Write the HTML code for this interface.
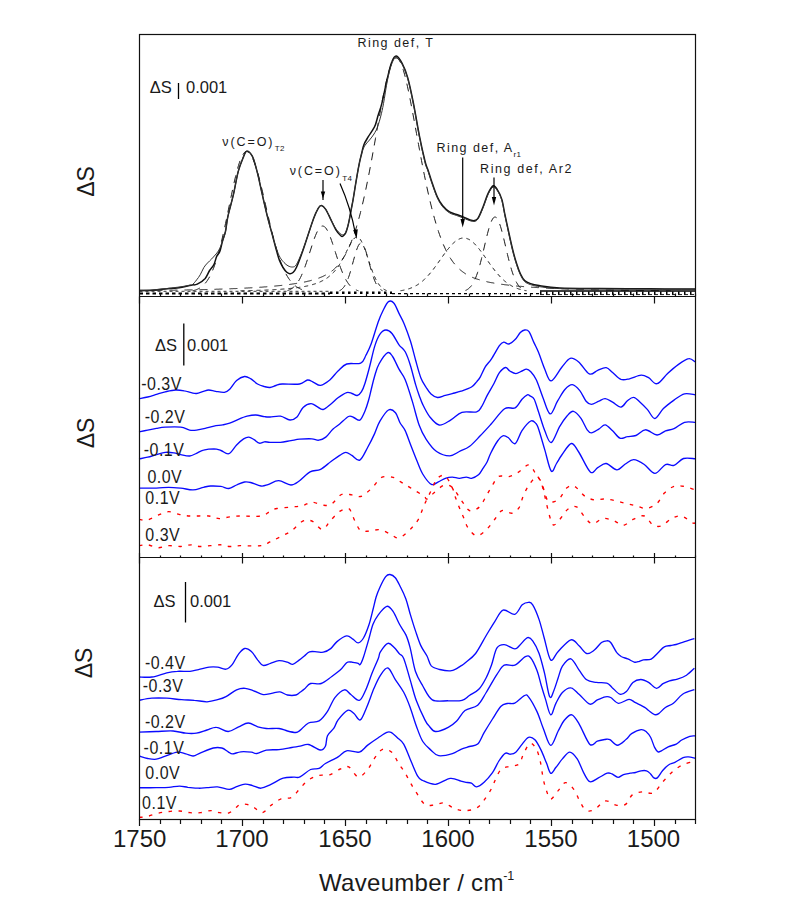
<!DOCTYPE html>
<html><head><meta charset="utf-8"><title>Spectra</title>
<style>
html,body{margin:0;padding:0;background:#fff;}
body{width:803px;height:900px;overflow:hidden;position:relative;}
svg{position:absolute;left:0;top:0;}
text{font-family:"Liberation Sans",Arial,sans-serif;}
</style></head><body>
<svg width="803" height="900" viewBox="0 0 803 900">
<rect width="803" height="900" fill="#fff"/>
<g fill="none" stroke="#1a1a1a" stroke-width="1">
<path d="M192.5 290.8 L193.5 290.6 L194.5 290.3 L195.5 290 L196.5 289.6 L197.5 289.2 L198.5 288.7 L199.5 288.2 L200.5 287.6 L201.5 286.8 L202.5 286 L203.5 285.1 L204.5 284.1 L205.5 283 L206.5 281.7 L207.5 280.3 L208.5 278.7 L209.5 277 L210.5 275.1 L211.5 273 L212.5 270.7 L213.5 268.3 L214.5 265.6 L215.5 262.7 L216.5 259.7 L217.5 256.4 L218.5 252.9 L219.5 249.3 L220.5 245.4 L221.5 241.4 L222.5 237.1 L223.5 232.8 L224.5 228.2 L225.5 223.6 L226.5 218.9 L227.5 214.1 L228.5 209.2 L229.5 204.3 L230.5 199.5 L231.5 194.7 L232.5 190 L233.5 185.4 L234.5 180.9 L235.5 176.7 L236.5 172.7 L237.5 168.9 L238.5 165.4 L239.5 162.3 L240.5 159.5 L241.5 157.1 L242.5 155.1 L243.5 153.5 L244.5 152.4 L245.5 151.7 L246.5 151.5 L247.5 151.7 L248.5 152.2 L249.5 153.2 L250.5 154.4 L251.5 156 L252.5 158 L253.5 160.3 L254.5 162.8 L255.5 165.7 L256.5 168.8 L257.5 172.2 L258.5 175.7 L259.5 179.5 L260.5 183.4 L261.5 187.5 L262.5 191.7 L263.5 195.9 L264.5 200.2 L265.5 204.6 L266.5 209 L267.5 213.3 L268.5 217.6 L269.5 221.9 L270.5 226.1 L271.5 230.2 L272.5 234.2 L273.5 238.1 L274.5 241.9 L275.5 245.5 L276.5 249 L277.5 252.3 L278.5 255.4 L279.5 258.4 L280.5 261.3 L281.5 263.9 L282.5 266.4 L283.5 268.8 L284.5 271 L285.5 273 L286.5 274.9 L287.5 276.6 L288.5 278.2 L289.5 279.6 L290.5 281 L291.5 282.2 L292.5 283.3 L293.5 284.3 L294.5 285.2 L295.5 286 L296.5 286.8 L297.5 287.4 L298.5 288 L299.5 288.5 L300.5 289 L301.5 289.4 L302.5 289.7 L303.5 290 L304.5 290.3 L305.5 290.6 L306.5 290.8" stroke-dasharray="8 7"/>
<path d="M287.5 290.6 L288.5 290.2 L289.5 289.8 L290.5 289.3 L291.5 288.7 L292.5 288 L293.5 287.2 L294.5 286.3 L295.5 285.2 L296.5 284 L297.5 282.6 L298.5 281.1 L299.5 279.4 L300.5 277.5 L301.5 275.4 L302.5 273.1 L303.5 270.7 L304.5 268.1 L305.5 265.3 L306.5 262.4 L307.5 259.4 L308.5 256.4 L309.5 253.2 L310.5 250.1 L311.5 247 L312.5 243.9 L313.5 240.9 L314.5 238.1 L315.5 235.5 L316.5 233.2 L317.5 231.1 L318.5 229.4 L319.5 227.9 L320.5 226.9 L321.5 226.2 L322.5 226 L323.5 226.2 L324.5 226.7 L325.5 227.7 L326.5 229 L327.5 230.7 L328.5 232.8 L329.5 235.1 L330.5 237.6 L331.5 240.4 L332.5 243.3 L333.5 246.3 L334.5 249.5 L335.5 252.6 L336.5 255.7 L337.5 258.8 L338.5 261.9 L339.5 264.8 L340.5 267.6 L341.5 270.2 L342.5 272.7 L343.5 275 L344.5 277.1 L345.5 279 L346.5 280.8 L347.5 282.3 L348.5 283.8 L349.5 285 L350.5 286.1 L351.5 287 L352.5 287.9 L353.5 288.6 L354.5 289.2 L355.5 289.7 L356.5 290.1 L357.5 290.5 L358.5 290.8" stroke-dasharray="8 7"/>
<path d="M339.5 290.7 L340.5 290.2 L341.5 289.5 L342.5 288.6 L343.5 287.5 L344.5 286.2 L345.5 284.5 L346.5 282.5 L347.5 280.2 L348.5 277.5 L349.5 274.6 L350.5 271.3 L351.5 267.8 L352.5 264.1 L353.5 260.4 L354.5 256.8 L355.5 253.3 L356.5 250.2 L357.5 247.5 L358.5 245.3 L359.5 243.9 L360.5 243.1 L361.5 243.1 L362.5 243.9 L363.5 245.3 L364.5 247.5 L365.5 250.2 L366.5 253.3 L367.5 256.8 L368.5 260.4 L369.5 264.1 L370.5 267.8 L371.5 271.3 L372.5 274.6 L373.5 277.5 L374.5 280.2 L375.5 282.5 L376.5 284.5 L377.5 286.2 L378.5 287.5 L379.5 288.6 L380.5 289.5 L381.5 290.2 L382.5 290.7" stroke-dasharray="8 7"/>
<path d="M240.5 290.8 L241.5 290.8 L242.5 290.7 L243.5 290.7 L244.5 290.7 L245.5 290.7 L246.5 290.7 L247.5 290.6 L248.5 290.6 L249.5 290.6 L250.5 290.6 L251.5 290.5 L252.5 290.5 L253.5 290.5 L254.5 290.4 L255.5 290.4 L256.5 290.4 L257.5 290.3 L258.5 290.3 L259.5 290.3 L260.5 290.2 L261.5 290.2 L262.5 290.2 L263.5 290.1 L264.5 290.1 L265.5 290.1 L266.5 290 L267.5 290 L268.5 289.9 L269.5 289.9 L270.5 289.8 L271.5 289.8 L272.5 289.7 L273.5 289.7 L274.5 289.6 L275.5 289.6 L276.5 289.5 L277.5 289.5 L278.5 289.4 L279.5 289.3 L280.5 289.3 L281.5 289.2 L282.5 289.1 L283.5 289 L284.5 289 L285.5 288.9 L286.5 288.8 L287.5 288.7 L288.5 288.6 L289.5 288.5 L290.5 288.4 L291.5 288.3 L292.5 288.2 L293.5 288.1 L294.5 288 L295.5 287.9 L296.5 287.8 L297.5 287.6 L298.5 287.5 L299.5 287.3 L300.5 287.2 L301.5 287 L302.5 286.9 L303.5 286.7 L304.5 286.5 L305.5 286.3 L306.5 286.1 L307.5 285.9 L308.5 285.7 L309.5 285.4 L310.5 285.2 L311.5 284.9 L312.5 284.6 L313.5 284.3 L314.5 284 L315.5 283.7 L316.5 283.3 L317.5 283 L318.5 282.6 L319.5 282.2 L320.5 281.7 L321.5 281.2 L322.5 280.7 L323.5 280.2 L324.5 279.6 L325.5 279 L326.5 278.4 L327.5 277.7 L328.5 276.9 L329.5 276.1 L330.5 275.3 L331.5 274.4 L332.5 273.4 L333.5 272.4 L334.5 271.3 L335.5 270.1 L336.5 268.8 L337.5 267.5 L338.5 266 L339.5 264.5 L340.5 262.9 L341.5 261.2 L342.5 259.4 L343.5 257.5 L344.5 255.6 L345.5 253.6 L346.5 251.6 L347.5 249.5 L348.5 247.5 L349.5 245.5 L350.5 243.7 L351.5 241.9 L352.5 240.4 L353.5 239.1 L354.5 238.1 L355.5 237.4 L356.5 237 L357.5 237.1 L358.5 237.5 L359.5 238.4 L360.5 239.7 L361.5 241.4 L362.5 243.5 L363.5 245.8 L364.5 248.4 L365.5 251.2 L366.5 254.1 L367.5 257.1 L368.5 260.2 L369.5 263.2 L370.5 266.1 L371.5 268.9 L372.5 271.6 L373.5 274.1 L374.5 276.5 L375.5 278.6 L376.5 280.6 L377.5 282.3 L378.5 283.9 L379.5 285.2 L380.5 286.4 L381.5 287.4 L382.5 288.3 L383.5 289 L384.5 289.6 L385.5 290.1 L386.5 290.5" stroke-dasharray="4 4"/>
<path d="M139.5 290.6 L140.5 290.6 L141.5 290.6 L142.5 290.6 L143.5 290.6 L144.5 290.6 L145.5 290.6 L146.5 290.5 L147.5 290.5 L148.5 290.5 L149.5 290.5 L150.5 290.5 L151.5 290.5 L152.5 290.5 L153.5 290.5 L154.5 290.5 L155.5 290.4 L156.5 290.4 L157.5 290.4 L158.5 290.4 L159.5 290.4 L160.5 290.4 L161.5 290.4 L162.5 290.3 L163.5 290.3 L164.5 290.3 L165.5 290.3 L166.5 290.3 L167.5 290.3 L168.5 290.3 L169.5 290.2 L170.5 290.2 L171.5 290.2 L172.5 290.2 L173.5 290.2 L174.5 290.2 L175.5 290.1 L176.5 290.1 L177.5 290.1 L178.5 290.1 L179.5 290.1 L180.5 290.1 L181.5 290 L182.5 290 L183.5 290 L184.5 290 L185.5 290 L186.5 290 L187.5 289.9 L188.5 289.9 L189.5 289.9 L190.5 289.9 L191.5 289.9 L192.5 289.8 L193.5 289.8 L194.5 289.8 L195.5 289.8 L196.5 289.7 L197.5 289.7 L198.5 289.7 L199.5 289.7 L200.5 289.7 L201.5 289.6 L202.5 289.6 L203.5 289.6 L204.5 289.6 L205.5 289.5 L206.5 289.5 L207.5 289.5 L208.5 289.5 L209.5 289.4 L210.5 289.4 L211.5 289.4 L212.5 289.3 L213.5 289.3 L214.5 289.3 L215.5 289.3 L216.5 289.2 L217.5 289.2 L218.5 289.2 L219.5 289.1 L220.5 289.1 L221.5 289.1 L222.5 289 L223.5 289 L224.5 289 L225.5 288.9 L226.5 288.9 L227.5 288.9 L228.5 288.8 L229.5 288.8 L230.5 288.8 L231.5 288.7 L232.5 288.7 L233.5 288.6 L234.5 288.6 L235.5 288.6 L236.5 288.5 L237.5 288.5 L238.5 288.4 L239.5 288.4 L240.5 288.3 L241.5 288.3 L242.5 288.2 L243.5 288.2 L244.5 288.1 L245.5 288.1 L246.5 288 L247.5 288 L248.5 287.9 L249.5 287.9 L250.5 287.8 L251.5 287.8 L252.5 287.7 L253.5 287.7 L254.5 287.6 L255.5 287.5 L256.5 287.5 L257.5 287.4 L258.5 287.4 L259.5 287.3 L260.5 287.2 L261.5 287.2 L262.5 287.1 L263.5 287 L264.5 286.9 L265.5 286.9 L266.5 286.8 L267.5 286.7 L268.5 286.6 L269.5 286.6 L270.5 286.5 L271.5 286.4 L272.5 286.3 L273.5 286.2 L274.5 286.1 L275.5 286 L276.5 285.9 L277.5 285.8 L278.5 285.7 L279.5 285.6 L280.5 285.5 L281.5 285.4 L282.5 285.3 L283.5 285.2 L284.5 285.1 L285.5 285 L286.5 284.8 L287.5 284.7 L288.5 284.6 L289.5 284.5 L290.5 284.3 L291.5 284.2 L292.5 284 L293.5 283.9 L294.5 283.7 L295.5 283.6 L296.5 283.4 L297.5 283.3 L298.5 283.1 L299.5 282.9 L300.5 282.8 L301.5 282.6 L302.5 282.4 L303.5 282.2 L304.5 282 L305.5 281.8 L306.5 281.6 L307.5 281.3 L308.5 281.1 L309.5 280.9 L310.5 280.6 L311.5 280.3 L312.5 280.1 L313.5 279.8 L314.5 279.5 L315.5 279.2 L316.5 278.9 L317.5 278.5 L318.5 278.2 L319.5 277.8 L320.5 277.4 L321.5 277 L322.5 276.6 L323.5 276.1 L324.5 275.6 L325.5 275.1 L326.5 274.6 L327.5 274 L328.5 273.4 L329.5 272.7 L330.5 272 L331.5 271.3 L332.5 270.5 L333.5 269.7 L334.5 268.8 L335.5 267.9 L336.5 266.9 L337.5 265.8 L338.5 264.7 L339.5 263.5 L340.5 262.2 L341.5 260.8 L342.5 259.3 L343.5 257.8 L344.5 256.1 L345.5 254.4 L346.5 252.5 L347.5 250.5 L348.5 248.4 L349.5 246.2 L350.5 243.8 L351.5 241.3 L352.5 238.7 L353.5 235.9 L354.5 233 L355.5 230 L356.5 226.8 L357.5 223.4 L358.5 219.9 L359.5 216.2 L360.5 212.4 L361.5 208.4 L362.5 204.2 L363.5 199.9 L364.5 195.5 L365.5 190.9 L366.5 186.1 L367.5 181.2 L368.5 176.2 L369.5 171.1 L370.5 165.8 L371.5 160.5 L372.5 155 L373.5 149.5 L374.5 143.9 L375.5 138.3 L376.5 132.7 L377.5 127 L378.5 121.4 L379.5 115.8 L380.5 110.3 L381.5 104.9 L382.5 99.6 L383.5 94.5 L384.5 89.6 L385.5 84.9 L386.5 80.5 L387.5 76.4 L388.5 72.6 L389.5 69.2 L390.5 66.2 L391.5 63.6 L392.5 61.5 L393.5 59.9 L394.5 58.7 L395.5 58.1 L396.5 58 L397.5 58.4 L398.5 59.3 L399.5 60.7 L400.5 62.6 L401.5 64.9 L402.5 67.6 L403.5 70.7 L404.5 74.2 L405.5 78.1 L406.5 82.2 L407.5 86.7 L408.5 91.3 L409.5 96.2 L410.5 101.2 L411.5 106.4 L412.5 111.7 L413.5 117.1 L414.5 122.5 L415.5 128 L416.5 133.5 L417.5 139 L418.5 144.4 L419.5 149.8 L420.5 155.2 L421.5 160.5 L422.5 165.7 L423.5 170.8 L424.5 175.7 L425.5 180.6 L426.5 185.4 L427.5 190 L428.5 194.5 L429.5 198.9 L430.5 203.1 L431.5 207.1 L432.5 211.1 L433.5 214.9 L434.5 218.5 L435.5 222 L436.5 225.3 L437.5 228.5 L438.5 231.6 L439.5 234.5 L440.5 237.3 L441.5 240 L442.5 242.5 L443.5 244.9 L444.5 247.1 L445.5 249.3 L446.5 251.3 L447.5 253.2 L448.5 255 L449.5 256.8 L450.5 258.4 L451.5 259.9 L452.5 261.3 L453.5 262.7 L454.5 263.9 L455.5 265.1 L456.5 266.3 L457.5 267.3 L458.5 268.3 L459.5 269.2 L460.5 270.1 L461.5 270.9 L462.5 271.7 L463.5 272.4 L464.5 273.1 L465.5 273.8 L466.5 274.4 L467.5 274.9 L468.5 275.5 L469.5 276 L470.5 276.5 L471.5 276.9 L472.5 277.4 L473.5 277.8 L474.5 278.2 L475.5 278.5 L476.5 278.9 L477.5 279.2 L478.5 279.5 L479.5 279.8 L480.5 280.1 L481.5 280.4 L482.5 280.7 L483.5 280.9 L484.5 281.2 L485.5 281.4 L486.5 281.6 L487.5 281.9 L488.5 282.1 L489.5 282.3 L490.5 282.5 L491.5 282.7 L492.5 282.8 L493.5 283 L494.5 283.2 L495.5 283.4 L496.5 283.5 L497.5 283.7 L498.5 283.8 L499.5 284 L500.5 284.1 L501.5 284.3 L502.5 284.4 L503.5 284.5 L504.5 284.7 L505.5 284.8 L506.5 284.9 L507.5 285 L508.5 285.2 L509.5 285.3 L510.5 285.4 L511.5 285.5 L512.5 285.6 L513.5 285.7 L514.5 285.8 L515.5 285.9 L516.5 286 L517.5 286.1 L518.5 286.2 L519.5 286.3 L520.5 286.3 L521.5 286.4 L522.5 286.5 L523.5 286.6 L524.5 286.7 L525.5 286.8 L526.5 286.8 L527.5 286.9 L528.5 287 L529.5 287.1 L530.5 287.1 L531.5 287.2 L532.5 287.3 L533.5 287.3 L534.5 287.4 L535.5 287.5 L536.5 287.5 L537.5 287.6 L538.5 287.6 L539.5 287.7 L540.5 287.8 L541.5 287.8 L542.5 287.9 L543.5 287.9 L544.5 288 L545.5 288 L546.5 288.1 L547.5 288.1 L548.5 288.2 L549.5 288.2 L550.5 288.3 L551.5 288.3 L552.5 288.4 L553.5 288.4 L554.5 288.5 L555.5 288.5 L556.5 288.5 L557.5 288.6 L558.5 288.6 L559.5 288.7 L560.5 288.7 L561.5 288.7 L562.5 288.8 L563.5 288.8 L564.5 288.8 L565.5 288.9 L566.5 288.9 L567.5 289 L568.5 289 L569.5 289 L570.5 289.1 L571.5 289.1 L572.5 289.1 L573.5 289.2 L574.5 289.2 L575.5 289.2 L576.5 289.2 L577.5 289.3 L578.5 289.3 L579.5 289.3 L580.5 289.4 L581.5 289.4 L582.5 289.4 L583.5 289.4 L584.5 289.5 L585.5 289.5 L586.5 289.5 L587.5 289.5 L588.5 289.6 L589.5 289.6 L590.5 289.6 L591.5 289.6 L592.5 289.7 L593.5 289.7 L594.5 289.7 L595.5 289.7 L596.5 289.8 L597.5 289.8 L598.5 289.8 L599.5 289.8 L600.5 289.8 L601.5 289.9 L602.5 289.9 L603.5 289.9 L604.5 289.9 L605.5 289.9 L606.5 290 L607.5 290 L608.5 290 L609.5 290 L610.5 290 L611.5 290.1 L612.5 290.1 L613.5 290.1 L614.5 290.1 L615.5 290.1 L616.5 290.1 L617.5 290.2 L618.5 290.2 L619.5 290.2 L620.5 290.2 L621.5 290.2 L622.5 290.2 L623.5 290.3 L624.5 290.3 L625.5 290.3 L626.5 290.3 L627.5 290.3 L628.5 290.3 L629.5 290.3 L630.5 290.4 L631.5 290.4 L632.5 290.4 L633.5 290.4 L634.5 290.4 L635.5 290.4 L636.5 290.4 L637.5 290.4 L638.5 290.5 L639.5 290.5 L640.5 290.5 L641.5 290.5 L642.5 290.5 L643.5 290.5 L644.5 290.5 L645.5 290.5 L646.5 290.6 L647.5 290.6 L648.5 290.6 L649.5 290.6 L650.5 290.6 L651.5 290.6 L652.5 290.6 L653.5 290.6 L654.5 290.6 L655.5 290.7 L656.5 290.7 L657.5 290.7 L658.5 290.7 L659.5 290.7 L660.5 290.7 L661.5 290.7 L662.5 290.7 L663.5 290.7 L664.5 290.7 L665.5 290.7 L666.5 290.8 L667.5 290.8 L668.5 290.8 L669.5 290.8 L670.5 290.8" stroke-dasharray="8 7"/>
<path d="M400.5 290.7 L401.5 290.6 L402.5 290.4 L403.5 290.2 L404.5 290 L405.5 289.8 L406.5 289.5 L407.5 289.2 L408.5 288.9 L409.5 288.6 L410.5 288.2 L411.5 287.8 L412.5 287.4 L413.5 287 L414.5 286.5 L415.5 285.9 L416.5 285.4 L417.5 284.8 L418.5 284.1 L419.5 283.4 L420.5 282.7 L421.5 281.9 L422.5 281.1 L423.5 280.2 L424.5 279.3 L425.5 278.3 L426.5 277.3 L427.5 276.2 L428.5 275.1 L429.5 274 L430.5 272.8 L431.5 271.6 L432.5 270.4 L433.5 269.1 L434.5 267.7 L435.5 266.4 L436.5 265 L437.5 263.6 L438.5 262.2 L439.5 260.8 L440.5 259.4 L441.5 258 L442.5 256.5 L443.5 255.1 L444.5 253.7 L445.5 252.4 L446.5 251 L447.5 249.7 L448.5 248.5 L449.5 247.3 L450.5 246.1 L451.5 245 L452.5 243.9 L453.5 243 L454.5 242.1 L455.5 241.2 L456.5 240.5 L457.5 239.9 L458.5 239.3 L459.5 238.9 L460.5 238.5 L461.5 238.2 L462.5 238.1 L463.5 238 L464.5 238 L465.5 238.2 L466.5 238.4 L467.5 238.8 L468.5 239.2 L469.5 239.7 L470.5 240.4 L471.5 241.1 L472.5 241.9 L473.5 242.8 L474.5 243.7 L475.5 244.8 L476.5 245.9 L477.5 247 L478.5 248.2 L479.5 249.5 L480.5 250.8 L481.5 252.1 L482.5 253.5 L483.5 254.9 L484.5 256.3 L485.5 257.7 L486.5 259.1 L487.5 260.5 L488.5 261.9 L489.5 263.4 L490.5 264.8 L491.5 266.1 L492.5 267.5 L493.5 268.8 L494.5 270.1 L495.5 271.4 L496.5 272.6 L497.5 273.8 L498.5 274.9 L499.5 276 L500.5 277.1 L501.5 278.1 L502.5 279.1 L503.5 280 L504.5 280.9 L505.5 281.7 L506.5 282.5 L507.5 283.3 L508.5 284 L509.5 284.6 L510.5 285.2 L511.5 285.8 L512.5 286.4 L513.5 286.9 L514.5 287.3 L515.5 287.8 L516.5 288.2 L517.5 288.5 L518.5 288.9 L519.5 289.2 L520.5 289.5 L521.5 289.7 L522.5 290 L523.5 290.2 L524.5 290.4 L525.5 290.6 L526.5 290.7" stroke-dasharray="4 4"/>
<path d="M465.5 290.4 L466.5 290 L467.5 289.4 L468.5 288.7 L469.5 287.8 L470.5 286.8 L471.5 285.6 L472.5 284.1 L473.5 282.4 L474.5 280.4 L475.5 278.2 L476.5 275.6 L477.5 272.8 L478.5 269.7 L479.5 266.3 L480.5 262.6 L481.5 258.7 L482.5 254.6 L483.5 250.4 L484.5 246.1 L485.5 241.8 L486.5 237.6 L487.5 233.6 L488.5 229.9 L489.5 226.4 L490.5 223.5 L491.5 221 L492.5 219.1 L493.5 217.7 L494.5 217.1 L495.5 217.1 L496.5 217.7 L497.5 219.1 L498.5 221 L499.5 223.5 L500.5 226.4 L501.5 229.9 L502.5 233.6 L503.5 237.6 L504.5 241.8 L505.5 246.1 L506.5 250.4 L507.5 254.6 L508.5 258.7 L509.5 262.6 L510.5 266.3 L511.5 269.7 L512.5 272.8 L513.5 275.6 L514.5 278.2 L515.5 280.4 L516.5 282.4 L517.5 284.1 L518.5 285.6 L519.5 286.8 L520.5 287.8 L521.5 288.7 L522.5 289.4 L523.5 290 L524.5 290.4" stroke-dasharray="8 7"/>
</g>
<g fill="none" stroke="#000">
<path d="M139.5 293.5 H330" stroke-width="2" stroke-dasharray="3.5 3"/>
<path d="M330 292.7 H392" stroke-width="2.5" stroke-dasharray="2.5 3.5"/>
<path d="M392 293.6 H540" stroke-width="1.3" stroke-dasharray="3 3"/>
<path d="M540 291 H695" stroke-width="1.3"/>
<path d="M540 293 H695" stroke-width="3" stroke-dasharray="1.5 4.5"/>
<path d="M540 294.6 H695" stroke-width="0.9" stroke-dasharray="4 2"/>
<path d="M139.5 291.3 H330" stroke-width="0.8" stroke-dasharray="3 3"/>
</g>
<path d="M139 290.5 C140.8 290.5 146.2 290.6 150 290.4 C153.8 290.2 158.2 289.6 162 289.3 C165.8 289 169.7 288.6 173 288.3 C176.3 288 179.3 287.8 182 287.3 C184.7 286.9 187.6 286 189.3 285.6 C191 285.2 190.9 285.1 192.2 284.9 C193.5 284.7 195.1 285.3 197.3 284.2 C199.5 283.1 203.1 280.7 205.2 278.4 C207.2 276.1 208.1 272.8 209.6 270.5 C211.1 268.2 212.7 267.1 213.9 264.7 C215.1 262.3 215.8 258.2 216.8 256 C217.8 253.8 218.7 254.2 219.7 251.7 C220.7 249.2 221.6 244.2 222.6 240.8 C223.6 237.4 224.6 235.4 225.5 231.4 C226.4 227.4 226.5 223.1 227.8 216.9 C229.1 210.7 231.8 201.8 233.5 194.2 C235.2 186.6 236.6 177.6 238.2 171.6 C239.8 165.6 241.5 161.7 242.9 158.3 C244.3 154.9 245.1 151.5 246.7 151.2 C248.3 150.9 250.7 153 252.4 156.4 C254.1 159.8 255.5 165.6 257.1 171.6 C258.7 177.6 260.1 184.8 261.8 192.3 C263.5 199.9 265.6 209.3 267.5 216.9 C269.4 224.5 271.6 232.1 273.1 237.7 C274.6 243.3 275.4 246.7 276.5 250.5 C277.6 254.3 278.4 257.7 279.5 260.5 C280.6 263.3 281.8 265.6 283 267.5 C284.2 269.4 285.4 271 286.5 272 C287.6 273 288.6 273.6 289.7 273.7 C290.8 273.8 291.9 273.5 293 272.5 C294.1 271.5 294.9 270.8 296.4 267.5 C297.9 264.2 300.2 258.1 302.1 252.8 C304 247.5 305.9 241.5 307.8 235.8 C309.7 230.1 311.8 223.4 313.5 218.8 C315.2 214.2 316.9 210.6 318.2 208.4 C319.5 206.2 320.1 205.4 321.4 205.6 C322.6 205.8 324.2 207.1 325.7 209.3 C327.2 211.5 328.8 215.3 330.5 218.8 C332.2 222.3 334.4 227.3 336.1 230.1 C337.8 232.9 339.7 234.7 340.8 235.7 C341.9 236.7 342 236.7 342.8 236.2 C343.6 235.7 344.8 235.1 345.8 232.8 C346.8 230.6 347.9 226.3 348.7 222.7 C349.5 219.1 350.2 214.9 350.9 211.1 C351.6 207.2 352.4 203.7 353.1 199.6 C353.8 195.5 354.5 190.9 355.2 186.6 C355.9 182.3 356.7 177.7 357.4 173.6 C358.1 169.5 358.9 165.4 359.6 162 C360.3 158.6 361 156.2 361.7 153.3 C362.4 150.4 362.8 147.5 363.9 144.7 C365 141.9 366.9 139.1 368.3 136.7 C369.8 134.3 371.4 132.2 372.6 130.2 C373.8 128.1 374.5 127.1 375.5 124.4 C376.5 121.8 377.3 117.8 378.4 114.3 C379.4 110.8 380.3 109.7 381.8 103.6 C383.3 97.5 385.8 84.6 387.5 77.6 C389.2 70.6 390.4 65.3 391.9 61.7 C393.3 58.1 394.5 55.7 396.2 55.9 C397.9 56.1 400.1 59.5 402 63.1 C403.9 66.7 405.8 70.8 407.7 77.6 C409.6 84.3 411.6 94 413.5 103.6 C415.4 113.2 417.4 125.7 419.3 135.3 C421.2 144.9 423.6 155.5 425 161.3 C426.4 167.1 426.8 166.4 428 170 C429.2 173.6 430.6 178.6 432.2 183.1 C433.8 187.6 435.6 193.2 437.4 197 C439.1 200.8 440.7 203.3 442.7 205.8 C444.7 208.3 447.3 210.5 449.6 211.9 C451.9 213.3 454.3 213.6 456.6 214.5 C458.9 215.4 461 216.1 463.6 217.1 C466.2 218.1 470 220.3 472.3 220.6 C474.6 220.9 475.8 221.1 477.5 218.9 C479.2 216.7 481.1 211.7 482.8 207.5 C484.6 203.3 486.3 197.2 488 193.6 C489.7 190 491.6 186.3 493.2 185.7 C494.8 185.1 496.2 187.8 497.6 190.1 C499.1 192.4 500.7 195.4 501.9 199.6 C503.1 203.8 503.8 209.3 505 215 C506.2 220.7 507.7 227.5 509 233.5 C510.3 239.5 511.7 245.8 513 251 C514.3 256.2 515.6 260.7 516.9 264.5 C518.1 268.3 519.2 271.3 520.5 274 C521.8 276.7 522.9 278.9 524.6 280.5 C526.3 282.1 528.1 282.8 530.5 283.6 C532.9 284.5 534.1 284.9 539 285.6 C543.9 286.4 549.5 287.6 559.7 288.1 C569.9 288.6 585 288.5 600 288.6 C615 288.7 634.2 288.7 650 288.8 C665.8 288.9 687.5 289 695 289" fill="none" stroke="#111" stroke-width="1.5"/>
<path d="M139 290.3 C140.8 290.3 146.2 290.3 150 290.1 C153.8 289.9 158.2 289.4 162 289 C165.8 288.6 169.7 288.2 173 287.8 C176.3 287.4 179.3 287 182 286.6 C184.7 286.2 187.6 285.6 189.3 285.3 C191 285 191 285.8 192.2 284.9 C193.4 284 195.3 281.6 196.6 279.9 C197.9 278.2 199 276.9 200.2 274.8 C201.4 272.8 202.6 269.6 203.8 267.6 C205 265.6 206.2 264.4 207.5 263 C208.8 261.6 210.1 260.5 211.7 258.9 C213.2 257.2 215.5 254.8 216.8 253.1 C218.1 251.4 218.7 250.6 219.7 248.5 C220.7 246.4 221.6 243.7 222.6 240.8 C223.6 238 224.6 235.4 225.5 231.4 C226.4 227.4 226.5 223.1 227.8 216.9 C229.1 210.7 231.8 201.8 233.5 194.2 C235.2 186.6 236.6 177.6 238.2 171.6 C239.8 165.6 241.5 161.7 242.9 158.3 C244.3 154.9 245.1 151.5 246.7 151.2 C248.3 150.9 250.7 153 252.4 156.4 C254.1 159.8 255.5 165.6 257.1 171.6 C258.7 177.6 260.1 184.8 261.8 192.3 C263.5 199.9 265.6 209.3 267.5 216.9 C269.4 224.5 271.6 232.3 273.1 237.7 C274.6 243 275.4 245.7 276.5 249 C277.6 252.3 278.8 255.1 280 257.3 C281.2 259.6 282.7 261.1 284 262.5 C285.3 263.9 286.6 265.1 288 265.8 C289.4 266.6 291.3 267.2 292.7 267 C294.1 266.8 294.8 267 296.4 264.5 C298 262 300.2 256.6 302.1 251.8 C304 247 305.9 241.3 307.8 235.8 C309.7 230.3 311.8 223.4 313.5 218.8 C315.2 214.2 316.9 210.6 318.2 208.4 C319.5 206.2 320.1 205.4 321.4 205.6 C322.6 205.8 324.2 207.1 325.7 209.3 C327.2 211.5 328.8 215.5 330.5 218.8 C332.2 222.1 334.4 226.6 336.1 229.1 C337.8 231.6 339.6 233.1 340.8 234 C342 234.9 342.7 234.9 343.5 234.5 C344.3 234.1 344.9 233.8 345.8 231.8 C346.7 229.8 347.9 226.1 348.7 222.7 C349.5 219.2 350.2 214.9 350.9 211.1 C351.6 207.2 352.4 203.7 353.1 199.6 C353.8 195.5 354.5 190.9 355.2 186.6 C355.9 182.3 356.7 177.7 357.4 173.6 C358.1 169.5 358.9 165.4 359.6 162 C360.3 158.6 360.9 156 361.7 153.3 C362.5 150.6 363.2 148.2 364.5 146 C365.8 143.8 367.9 142 369.5 140 C371.1 138 372.7 136.2 374 134 C375.3 131.8 376.4 130 377.5 127 C378.6 124 379.8 119.9 380.8 116 C381.8 112.1 382.4 109.6 383.5 103.6 C384.6 97.6 386.1 86.7 387.5 80 C388.9 73.3 390.4 67.2 391.9 63.5 C393.3 59.8 394.5 57.4 396.2 57.5 C397.9 57.6 400.1 60.5 402 64 C403.9 67.5 405.8 71.8 407.7 78.6 C409.6 85.4 411.6 95 413.5 104.6 C415.4 114.2 417.4 126.7 419.3 136.3 C421.2 145.9 423.6 156.5 425 162.3 C426.4 168.1 426.8 167.4 428 171 C429.2 174.6 430.6 179.6 432.2 184.1 C433.8 188.6 435.6 194.2 437.4 198 C439.1 201.8 440.7 204.3 442.7 206.8 C444.7 209.3 447.3 211.5 449.6 212.9 C451.9 214.3 454.3 214.6 456.6 215.5 C458.9 216.4 461 217.1 463.6 218.1 C466.2 219.1 470 221.1 472.3 221.3 C474.6 221.6 475.8 221.7 477.5 219.6 C479.2 217.5 481.1 212.7 482.8 208.5 C484.6 204.3 486.3 198.2 488 194.6 C489.7 191 491.6 187.6 493.2 187 C494.8 186.4 496.2 188.8 497.6 191.1 C499.1 193.4 500.7 196.4 501.9 200.6 C503.1 204.8 503.8 210.3 505 216 C506.2 221.7 507.7 228.5 509 234.5 C510.3 240.5 511.7 246.8 513 252 C514.3 257.2 515.6 261.7 516.9 265.5 C518.1 269.3 519.2 272.3 520.5 275 C521.8 277.7 522.9 279.9 524.6 281.5 C526.3 283.1 528.1 283.8 530.5 284.6 C532.9 285.5 534.1 285.9 539 286.6 C543.9 287.3 549.5 288.2 559.7 288.6 C569.9 289 585 288.9 600 289 C615 289.1 634.2 289.1 650 289.2 C665.8 289.3 687.5 289.4 695 289.4" fill="none" stroke="#333" stroke-width="1"/>
<g stroke="#000" stroke-width="1.2" fill="none">
<path d="M323 180 V200"/>
<path d="M340 183.5 Q350.5 207 355.5 234"/>
<path d="M462.7 157.5 V222"/>
<path d="M494 177.5 V201"/>
</g>
<g fill="#000">
<path d="M320.8 191.5 L325.2 191.5 L323 198.5 Z"/>
<path d="M353.2 230 L357.8 229.2 L356.6 239 Z"/>
<path d="M460.5 219 L464.9 219 L462.7 227.5 Z"/>
<path d="M491.8 197 L496.2 197 L494 205.5 Z"/>
</g>
<path d="M139 398.8 C140.4 398.5 144.8 397.7 147.7 397 C150.6 396.3 153.5 395.3 156.4 394.4 C159.3 393.5 162 392.5 165.2 391.8 C168.4 391.1 172.4 390.1 175.6 390 C178.8 389.9 181.7 390.4 184.3 390.9 C186.9 391.3 189.3 392.3 191.3 392.7 C193.3 393.1 194.5 393.7 196.5 393.5 C198.5 393.3 201.5 391.9 203.5 391.3 C205.5 390.7 206.7 390 208.7 390 C210.7 390 213.1 390.9 215.7 391.3 C218.3 391.7 222.1 392.7 224.4 392.3 C226.7 391.9 227.7 391.2 229.7 389.2 C231.7 387.2 234.1 382.6 236.6 380.5 C239.1 378.4 242.2 376.8 244.5 376.5 C246.8 376.2 248.4 377.4 250.6 378.7 C252.8 379.9 255.2 382.7 257.5 384 C259.8 385.3 262.4 386 264.5 386.6 C266.6 387.2 268.1 387.7 270 387.5 C271.9 387.3 274 386.1 276 385.5 C278 384.9 278.3 384.2 282.2 384 C286.1 383.8 295.4 384.7 299.6 384 C303.8 383.3 305.2 380.3 307.5 380 C309.8 379.7 311.4 381.4 313.6 382.3 C315.8 383.2 317.9 385.7 320.6 385.3 C323.4 384.9 327.2 382.1 330.1 379.7 C333 377.3 335.2 373.6 338 371 C340.8 368.4 342.9 365.3 346.7 364 C350.5 362.7 357.5 364.6 360.7 363.1 C363.9 361.7 364.2 358.5 365.9 355.3 C367.6 352.1 369.1 349.5 371.1 344 C373.1 338.5 376.1 327.9 378.1 322.2 C380.1 316.5 381.6 313.4 383.3 310 C385 306.6 386.8 302.8 388.5 301.6 C390.2 300.4 392.1 301 393.8 303 C395.6 305 397.3 309.9 399 313.4 C400.7 316.9 402.3 319.2 404.2 323.9 C406.1 328.5 408.6 335.2 410.5 341.3 C412.4 347.4 414 354.4 415.7 360.5 C417.4 366.6 419.1 373.4 420.9 377.9 C422.6 382.4 424.5 384.8 426.2 387.5 C427.9 390.2 429.1 392.3 431 394 C432.9 395.7 435.1 397.3 437.5 397.5 C439.9 397.7 442.8 396 445.3 395.4 C447.8 394.8 449.7 394.3 452.3 393.6 C454.9 392.9 457.8 392.3 461 391.2 C464.2 390.1 468.9 388.6 471.5 387 C474.1 385.4 475.2 383.3 476.7 381.7 C478.1 380.1 478.8 379.6 480.2 377.1 C481.6 374.6 483.5 369.7 485.4 366.6 C487.3 363.6 489.2 362.3 491.5 358.8 C493.8 355.3 497.4 348.5 499.4 345.7 C501.4 342.9 502.1 342.5 503.7 342.2 C505.3 341.9 507.1 344.4 509 344 C510.9 343.6 513.2 341.5 515.1 339.6 C517 337.7 518.7 334.2 520.3 332.6 C521.9 331 523.2 330.1 524.7 330 C526.2 329.9 527.4 329.5 529 331.7 C530.6 333.9 532.6 339.7 534.2 343.1 C535.8 346.5 536.7 347.9 538.5 352.3 C540.3 356.7 542.7 364.5 544.8 369.3 C546.9 374.1 548.4 381.2 551.2 380.9 C554 380.5 558.6 371 561.8 367.2 C565 363.4 567.4 359.2 570.2 358.3 C573 357.4 575.5 359.3 578.7 361.9 C581.9 364.5 586.1 372.5 589.3 373.9 C592.5 375.3 594.9 371.4 597.7 370.3 C600.5 369.2 603.7 367.2 606.2 367.6 C608.7 368 610.1 370.5 612.6 372.5 C615.1 374.5 618.2 378.3 621 379.4 C623.8 380.4 626.1 379.5 629.5 378.8 C632.9 378.1 637.9 375.4 641.1 375.2 C644.3 375 646 376.3 648.6 377.7 C651.2 379.1 653.8 384.4 657 383.7 C660.2 383 664.1 376.7 667.6 373.5 C671.1 370.3 674.7 367.1 678.2 364.6 C681.7 362.1 686 359.1 688.8 358.7 C691.6 358.2 694 361.4 695 361.9" fill="none" stroke="#0a0aff" stroke-width="1.35" stroke-linejoin="round"/>
<path d="M139 431.9 C140.4 431.6 144.8 430.7 147.7 430.1 C150.6 429.5 153.5 428.9 156.4 428.4 C159.3 427.9 161.1 427.4 165.2 427.2 C169.3 427 176.7 426.7 180.8 427.2 C184.9 427.7 187 429.6 189.6 430.1 C192.2 430.6 193.9 430.4 196.5 430.1 C199.1 429.8 202.3 429.1 205.2 428.4 C208.1 427.7 211.1 426.7 214 426.1 C216.9 425.5 220.1 425.4 222.7 424.9 C225.3 424.4 227.1 424.1 229.7 423.2 C232.3 422.3 235.5 420.5 238.4 419.3 C241.3 418.1 244.2 416.9 247.1 416.2 C250 415.5 252.9 414.9 255.8 415 C258.7 415.1 262.1 416.4 264.5 416.7 C266.9 417 267.3 417.1 270 417 C272.7 416.9 277.2 415.7 280.5 416.2 C283.8 416.7 287.2 419.9 290 420 C292.8 420.1 294.8 419.1 297 417 C299.2 414.9 300.8 409.6 303.1 407.4 C305.4 405.2 308.7 403.7 311 403.6 C313.3 403.5 315.1 405.6 317.1 406.6 C319.1 407.6 320.9 409.9 323.2 409.5 C325.5 409.1 328.5 405.9 331 404 C333.5 402.1 335.4 399.7 338 397.8 C340.6 395.9 344.4 393.3 346.7 392.6 C349 391.9 350.1 393 351.9 393.5 C353.6 394 355.6 395.8 357.2 395.5 C358.8 395.2 360.2 393.8 361.5 391.7 C362.8 389.6 363.7 387.2 365 383.2 C366.3 379.2 367.8 373.6 369.4 367.5 C371 361.4 372.9 352.1 374.6 346.6 C376.3 341.1 377.9 337.2 379.8 334.4 C381.7 331.6 383.9 330.1 385.9 330 C387.9 329.9 389.8 331 392 333.5 C394.2 336 396.8 341.8 399 344.8 C401.2 347.9 403.3 348.3 405.2 351.8 C407.1 355.3 408.8 360.2 410.5 365.7 C412.2 371.2 414.2 379.9 415.7 384.9 C417.1 389.8 418 392.1 419.2 395.4 C420.4 398.6 421 400.9 422.7 404.4 C424.4 407.9 426.9 413.2 429.6 416.6 C432.4 420 435.7 424.4 439.2 425 C442.7 425.6 446.8 422.2 450.6 420.1 C454.4 418 457.5 413.7 461.9 412.3 C466.2 410.9 473.4 412.9 476.7 411.9 C480 410.9 480.1 408.9 481.9 406.2 C483.6 403.4 485.2 399.2 487.2 395.4 C489.2 391.6 492.1 387 494.1 383.2 C496.1 379.4 497.5 375.3 499.4 372.7 C501.3 370.1 503.8 367.8 505.5 367.5 C507.2 367.2 508.1 370 509.8 371 C511.5 372 513.9 373.6 515.9 373.6 C517.9 373.6 520.2 371.7 522 371 C523.8 370.3 524.9 369.1 526.4 369.2 C527.9 369.3 529.1 370 530.8 371.8 C532.5 373.6 534.4 375.8 536.4 380 C538.4 384.2 540.4 391.2 542.7 396.9 C545 402.5 547.6 413.2 550.1 413.9 C552.6 414.6 555 405.3 557.5 401.2 C560 397.1 562.4 392.2 564.9 389.5 C567.4 386.8 569.8 384.5 572.3 384.7 C574.8 384.9 577.5 387.9 579.8 390.6 C582.1 393.4 584.2 398.9 586.1 401.2 C588 403.5 589.3 404.3 591.4 404.3 C593.5 404.3 596.5 402.1 598.8 401.2 C601.1 400.2 602.9 398.4 605.2 398.6 C607.5 398.8 610 400.8 612.6 402.2 C615.2 403.6 618.5 407.4 621 407.1 C623.5 406.9 625.3 402.3 627.4 400.7 C629.5 399.1 631.6 397.1 633.7 397.4 C635.8 397.6 637.8 400.2 640.1 402.2 C642.4 404.2 645 406.9 647.5 409.6 C650 412.3 652.2 418.7 654.9 418.5 C657.5 418.3 660.2 411.7 663.4 408.6 C666.6 405.5 670.5 402.6 674 400.1 C677.5 397.6 681 394.7 684.5 393.8 C688 392.9 693.3 394.6 695.1 394.8" fill="none" stroke="#0a0aff" stroke-width="1.35" stroke-linejoin="round"/>
<path d="M139 458.9 C140.4 458.6 144.8 457.9 147.7 457.2 C150.6 456.5 153.5 455.4 156.4 454.6 C159.3 453.8 162.3 452.6 165.2 452.3 C168.1 452 171.3 452.4 173.9 452.8 C176.5 453.2 178.2 454.1 180.8 454.6 C183.4 455.1 187 456.2 189.6 456 C192.2 455.8 194.2 454.3 196.5 453.3 C198.8 452.3 200.6 450.9 203.5 450.2 C206.4 449.4 211.1 448.8 214 448.8 C216.9 448.9 218.4 449.7 220.9 450.5 C223.4 451.3 226.2 454.6 228.8 453.7 C231.4 452.8 234.1 447.5 236.6 445 C239.1 442.5 241.6 440.2 243.6 438.9 C245.6 437.6 247.1 437 248.8 437.1 C250.6 437.2 252.3 438.7 254.1 439.7 C255.8 440.7 257.6 442.8 259.3 443.2 C261 443.6 262.7 441.9 264.5 441.8 C266.3 441.7 267.3 442.2 270 442.3 C272.7 442.4 277 442.6 280.5 442.3 C284 442 287.7 441.1 290.9 440.6 C294.1 440.1 296.1 439.5 299.6 439.2 C303.1 438.9 308.6 438.6 311.8 438.8 C315 439 316.5 440.5 318.8 440.2 C321.1 439.9 323.5 438.9 325.8 437.1 C328.1 435.3 330.5 431.4 332.8 429.2 C335.1 427 337.1 426.1 339.7 424 C342.3 421.9 346.2 417.6 348.5 416.5 C350.8 415.4 352.1 416.9 353.7 417.5 C355.3 418.1 356.8 419.7 358 420 C359.2 420.3 359.5 420.8 360.7 419.3 C361.9 417.8 363.7 414 365 410.9 C366.3 407.8 367.5 404 368.5 400.5 C369.5 397 370.1 394.1 371.1 390 C372.1 385.9 373.3 380.5 374.6 376.2 C375.9 371.9 376.8 367.9 379 364 C381.2 360.1 385.4 353.9 387.7 352.7 C390 351.5 391 354.2 392.9 357 C394.8 359.8 396.9 365.4 399 369.2 C401.1 373 403 374.4 405.2 379.7 C407.4 385 409.9 393.3 412.2 400.9 C414.5 408.5 416.9 418.9 419.2 425.3 C421.5 431.7 423.3 434.9 426.2 439.3 C429.1 443.7 432.7 448.8 436.6 451.5 C440.5 454.2 445.9 455.8 449.7 455.8 C453.5 455.8 456 453.1 459.3 451.5 C462.6 449.9 466.2 448.8 469.7 446.2 C473.2 443.6 476.7 439.4 480.2 435.8 C483.7 432.2 486.6 429 490.7 424.5 C494.8 420 500.5 411.6 504.6 408.8 C508.7 406 512.2 409.5 515.1 407.9 C518 406.3 520 401.4 522 399.2 C524 397 526 395.4 527.3 394.8 C528.6 394.2 528.9 395.2 530 395.9 C531.1 396.6 532.8 396.5 534.2 399.2 C535.6 401.9 536.7 406.5 538.5 411.8 C540.3 417.1 542.7 425.7 544.8 430.8 C546.9 435.9 548.7 443.2 551.2 442.5 C553.7 441.8 557 431 559.6 426.6 C562.2 422.2 564.7 418.6 567 416 C569.3 413.4 571.1 410.9 573.4 411.3 C575.7 411.7 578.5 415 580.8 418.1 C583.1 421.2 585.4 427.3 587.2 429.8 C589 432.3 589.5 433 591.4 432.9 C593.3 432.8 596.5 430.4 598.8 429.1 C601.1 427.8 602.9 424.6 605.2 424.9 C607.5 425.2 610.1 428.6 612.6 430.8 C615.1 433 617.5 437.2 620 438.2 C622.5 439.2 624.8 437.1 627.4 436.7 C630 436.2 632.9 436.6 635.9 435.5 C638.9 434.4 641.9 429.9 645.4 429.8 C648.9 429.7 653.6 434.8 657 435 C660.4 435.2 662.7 431.9 665.5 430.8 C668.3 429.8 670.8 430.1 674 428.7 C677.2 427.3 681 423.4 684.5 422.3 C688 421.2 693.3 422.3 695.1 422.3" fill="none" stroke="#0a0aff" stroke-width="1.35" stroke-linejoin="round"/>
<path d="M139 488.1 C141.9 488.1 151.5 488.2 156.4 488.1 C161.3 488 164.5 487.3 168.6 487.3 C172.7 487.3 176.7 487.7 180.8 488.1 C184.9 488.5 189.2 490 193 489.9 C196.8 489.8 200.6 487.9 203.5 487.3 C206.4 486.7 207.6 486.1 210.5 486 C213.4 485.9 217.8 486 220.9 486.4 C224 486.8 226.2 488.7 228.8 488.5 C231.4 488.3 234 486.1 236.6 485 C239.2 483.9 242.2 482.4 244.5 482 C246.8 481.6 247.8 481.8 250.6 482.5 C253.3 483.2 258.1 485.6 261 486 C263.9 486.4 265.1 485.5 268 484.6 C270.9 483.7 274.9 480.6 278.7 480.7 C282.5 480.8 287.4 485 290.9 485 C294.4 485 296.4 482.9 299.6 480.7 C302.8 478.5 306.6 473.8 310.1 471.9 C313.6 470 317.1 471 320.6 469.3 C324.1 467.6 327.8 463.8 331 461.5 C334.2 459.2 337.2 456.9 339.7 455.4 C342.2 453.9 343.8 452.4 345.8 452.4 C347.8 452.4 349.6 454.1 351.9 455.4 C354.2 456.7 357.2 461.4 359.8 460.1 C362.4 458.8 365.1 451.9 367.6 447.5 C370.1 443.1 372.6 438 374.6 433.6 C376.6 429.2 377.5 425.3 379.8 421.4 C382.1 417.5 385.9 411.4 388.5 410 C391.1 408.6 393.6 410.6 395.5 412.7 C397.4 414.8 398.4 419.7 400 422.7 C401.6 425.7 403.4 427 405.2 430.6 C406.9 434.2 408.6 439.6 410.5 444.5 C412.4 449.4 414.6 455.1 416.6 460 C418.6 464.9 420.2 469.9 422.7 474 C425.2 478.1 428.8 483.1 431.4 484.4 C434 485.7 436.1 482.8 438.4 481.8 C440.7 480.8 443 479.1 445.3 478.3 C447.6 477.5 450 477.1 452.3 477.1 C454.6 477.1 457 478.3 459.3 478.3 C461.6 478.3 464.2 477.1 466.2 477.1 C468.2 477.1 469.4 478.7 471.5 478.3 C473.6 477.9 476.6 476.4 478.5 474.8 C480.4 473.2 481.4 470.9 482.8 468.7 C484.2 466.5 485.9 464.3 487.2 461.7 C488.5 459.1 489 456.6 490.7 453.2 C492.4 449.8 495.6 443.9 497.6 441 C499.6 438.1 501.1 436.4 502.9 435.8 C504.6 435.2 506.1 436.2 508.1 437.5 C510.1 438.8 512.8 444.8 515.1 443.6 C517.4 442.5 519.4 434.4 522 430.6 C524.6 426.8 528.5 422.2 530.8 421 C533.1 419.8 534.7 422.3 536 423.6 C537.3 424.9 537 424.3 538.5 428.7 C540 433.1 542.7 442.8 544.8 449.9 C546.9 456.9 549.2 468.7 551.2 471 C553.2 473.3 554.7 466.2 556.5 463.5 C558.3 460.8 559.3 458.3 561.8 455 C564.3 451.7 568.5 444 571.3 443.5 C574.1 443 575.5 447.3 578.7 452 C581.9 456.7 587.1 469.3 590.3 471.9 C593.5 474.5 595.1 469.1 597.7 467.7 C600.4 466.3 603 463.1 606.2 463.5 C609.4 463.9 613.6 469.7 616.8 469.8 C620 469.9 622.5 465.7 625.3 464 C628.1 462.3 630.5 459.6 633.7 459.7 C636.9 459.8 640.8 462.2 644.3 464.5 C647.8 466.8 651.4 473.4 654.9 473.4 C658.4 473.4 662.3 466 665.5 464.6 C668.7 463.2 671 466.3 674 465.3 C677 464.3 680 459.6 683.5 458.5 C687 457.4 693.2 458.7 695.1 458.7" fill="none" stroke="#0a0aff" stroke-width="1.35" stroke-linejoin="round"/>
<path d="M139 677 C141.2 677 147.3 677.7 151.9 677 C156.5 676.3 162.6 673.8 166.8 672.8 C171 671.8 173.4 671.5 177.3 671.3 C181.2 671 186.5 671.6 190 671.3 C193.5 671 195.3 670.3 198.5 669.6 C201.7 668.9 205.9 667.5 209.1 667.1 C212.3 666.7 214.8 666.8 217.6 667.1 C220.4 667.5 223.5 669.7 226 669.2 C228.5 668.7 230.3 666.9 232.4 664.3 C234.5 661.7 236.6 656.4 238.7 653.8 C240.8 651.2 242.6 648.9 244.7 648.5 C246.8 648.1 249.2 649.7 251.4 651.6 C253.6 653.5 255.9 657.8 257.8 660.1 C259.8 662.4 261 664.9 263.1 665.4 C265.2 665.9 267.9 664.1 270.5 663.3 C273.1 662.5 276.2 660.9 279 660.7 C281.8 660.5 285.1 661.6 287.4 662.2 C289.7 662.8 290.8 664.6 292.7 664.3 C294.6 663.9 297.2 661.5 299.1 660.1 C301.1 658.7 302.7 657.3 304.4 655.9 C306.1 654.5 307.4 652.5 309.5 651.8 C311.6 651.1 314.6 651.7 316.9 651.8 C319.2 651.9 321 652.7 323.3 652.2 C325.6 651.7 328.4 650.4 330.7 648.6 C333 646.8 334.4 643.7 337 641.6 C339.6 639.5 344 636.3 346.6 635.9 C349.2 635.5 351 637.9 352.9 639.1 C354.8 640.3 356.4 643.1 358.2 642.9 C360 642.7 361.7 640.9 363.5 638 C365.3 635.1 367.2 630 368.8 625.3 C370.4 620.5 371.8 614.2 373 609.5 C374.2 604.8 375 600.7 376.2 596.8 C377.4 592.9 378.8 589.6 380.4 586.2 C382 582.8 384.1 578.6 385.7 576.6 C387.3 574.6 388.4 574.3 390 574.5 C391.6 574.7 393.5 575.6 395.3 577.7 C397.1 579.8 398.8 583.7 400.6 587.2 C402.4 590.7 404.3 594.5 405.9 598.9 C407.5 603.3 408.5 608.4 410.1 613.7 C411.7 619 413.6 625.3 415.4 630.6 C417.2 635.9 418.8 641.2 420.7 645.4 C422.6 649.6 425.2 652.6 427 656 C428.8 659.4 429.2 663.6 431.3 665.9 C433.4 668.1 436.4 668.7 439.7 669.5 C443 670.3 447.9 671.3 451.4 670.7 C454.9 670.1 458.6 667.2 460.9 665.9 C463.2 664.6 462.6 665.1 465 663 C467.4 660.9 472.1 658.1 475.6 653.5 C479.1 648.9 483 640.8 486.2 635.5 C489.4 630.2 491.8 626 494.6 621.8 C497.4 617.6 499.7 611.4 503.1 610.1 C506.5 608.9 511.6 615.2 514.8 614.3 C518 613.4 519.9 606.8 522.2 604.8 C524.5 602.8 526.8 602.3 528.5 602.3 C530.2 602.3 530.9 601.9 532.7 604.8 C534.5 607.7 537.2 614 539.1 619.6 C541 625.2 542.5 632 544.4 638.7 C546.3 645.4 548.4 657.8 550.7 659.9 C553 662 554.8 654.8 558.2 651.4 C561.6 648 567.4 640.7 570.9 639.8 C574.4 638.9 576.7 643.8 579.3 646.1 C581.9 648.4 584.2 652.8 586.7 653.5 C589.2 654.2 591.6 652.1 594.1 650.3 C596.6 648.5 599.4 644.1 601.5 642.5 C603.6 640.9 605.3 640.8 606.8 640.8 C608.3 640.8 609.1 640.6 610.7 642.5 C612.3 644.4 614.9 650 616.6 652.3 C618.4 654.6 619.4 655.4 621.2 656.5 C623.1 657.6 625.5 658 627.7 658.9 C629.9 659.8 632.5 661.6 634.2 662.1 C635.9 662.6 636.6 662.1 638.1 661.7 C639.6 661.3 641.2 660.3 643.4 659.9 C645.6 659.5 648.8 660.2 651.2 659.1 C653.6 658 655.6 655 657.8 653 C660 651 662.1 648 664.3 646.8 C666.5 645.5 668.8 645.9 670.8 645.5 C672.8 645.1 673.9 645.1 676.1 644.5 C678.3 643.9 680.9 642.9 683.9 641.9 C686.9 640.9 692.6 639.1 694.4 638.6" fill="none" stroke="#0a0aff" stroke-width="1.35" stroke-linejoin="round"/>
<path d="M139 700.3 C141.2 699.9 147.3 698.6 151.9 698.2 C156.5 697.9 161.9 698 166.8 698.2 C171.8 698.5 177 699.4 181.6 699.7 C186.2 700.1 190.1 699.9 194.3 700.3 C198.5 700.6 203.1 701.9 207 701.8 C210.9 701.7 214.4 700.6 217.6 699.7 C220.8 698.9 222.8 698.4 226 696.7 C229.2 695.1 233.4 691.2 236.6 689.8 C239.8 688.4 242.3 688.1 245.1 688.3 C247.9 688.5 250.6 689.8 253.6 690.8 C256.6 691.8 260.1 694.2 263.1 694.6 C266.1 695 268.8 693.9 271.6 693.4 C274.4 692.9 277.4 691.6 280 691.9 C282.6 692.2 284.8 694.5 287.4 695 C290 695.5 293.8 695.5 295.9 695 C298 694.5 298.6 693.3 300 692.3 C301.4 691.3 302.6 690.6 304.4 689.1 C306.2 687.6 307.8 684.4 310.6 683.5 C313.4 682.6 317.7 684.7 321.2 683.5 C324.7 682.3 328.6 678.7 331.8 676.5 C335 674.3 337.7 672.4 340.2 670.1 C342.7 667.8 344.8 664.1 346.6 662.7 C348.4 661.4 349.8 662.1 350.8 662 C351.9 661.9 351.7 662.1 352.9 662.3 C354.1 662.5 357 663 358.2 663.4 C359.4 663.8 359.4 665.5 360.3 664.4 C361.2 663.3 362.1 661.2 363.5 657 C364.9 652.8 367.2 644.6 368.8 639.1 C370.4 633.6 371.4 628.3 373 624.3 C374.6 620.2 376 617.8 378.3 614.8 C380.6 611.8 384.3 606.8 386.8 606.3 C389.3 605.8 391.1 608.6 393.2 611.6 C395.3 614.6 397.4 620.4 399.5 624.3 C401.6 628.2 404.1 631 405.9 634.9 C407.7 638.8 408.5 641.5 410.1 647.6 C411.7 653.7 413.3 664.8 415.4 671.2 C417.5 677.6 420 681.2 422.8 686 C425.6 690.8 428.1 697.3 432.3 699.8 C436.5 702.3 443.2 700.7 448.2 700.8 C453.1 700.9 458.5 701.3 462 700.4 C465.5 699.5 466.6 697.4 469.4 695.5 C472.2 693.6 476 692.3 478.8 689.3 C481.6 686.3 484.1 681.8 486.2 677.7 C488.3 673.7 489.7 669.9 491.5 665 C493.3 660.1 494.7 651.6 496.8 648.2 C498.9 644.8 501.2 644.5 504.2 644.6 C507.2 644.7 512.2 648.8 514.8 648.9 C517.4 649 517.9 646.9 520 645 C522.1 643.1 525.4 638.3 527.5 637.6 C529.6 636.9 530.8 638.1 532.7 640.8 C534.6 643.4 537.2 648.2 539.1 653.5 C541 658.8 542.6 665.4 544.4 672.6 C546.2 679.8 548.1 693.8 549.7 696.8 C551.3 699.8 552.5 693.6 553.9 690.4 C555.3 687.2 556.8 681.7 558.2 677.7 C559.6 673.7 560.3 669.4 562.4 666.2 C564.5 663.1 568.1 658.1 570.9 658.8 C573.7 659.5 576.7 666.9 579.3 670.4 C581.9 673.9 583.9 677.8 586.7 679.8 C589.5 681.8 592.9 681.8 596.3 682.4 C599.6 683 604.2 682.3 606.8 683.1 C609.4 683.9 609.8 685.5 612 687.4 C614.2 689.2 617.4 693.5 619.8 694.2 C622.2 694.9 624.2 693.6 626.4 691.6 C628.6 689.6 630.5 684.4 632.9 682.4 C635.3 680.4 638.2 679.5 640.8 679.5 C643.4 679.5 646 680.9 648.6 682.4 C651.2 683.9 654.1 688.1 656.5 688.3 C658.9 688.5 660.8 685 663 683.7 C665.2 682.5 667.1 681.6 669.5 680.8 C671.9 680 674.6 680 677.4 679.1 C680.2 678.2 683.7 677 686.5 675.2 C689.3 673.4 693.1 669.4 694.4 668.3" fill="none" stroke="#0a0aff" stroke-width="1.35" stroke-linejoin="round"/>
<path d="M139 732.1 C141.9 732 150.5 731.7 156.2 731.5 C161.9 731.3 168.2 730.7 173.1 731 C178 731.3 181.9 732.8 185.8 733.2 C189.7 733.6 192.9 733.7 196.4 733.2 C199.9 732.7 203.7 731 207 730 C210.3 729 213 727.1 216.5 727.4 C220 727.6 224.5 731.6 228.2 731.5 C231.9 731.4 235.3 728.2 238.7 726.8 C242 725.4 245.1 723 248.3 723 C251.5 723 254.8 725.9 257.8 726.8 C260.8 727.7 262.8 728.2 266.3 728.5 C269.8 728.8 275.5 728.1 279 728.5 C282.5 728.9 284.6 730.3 287.4 731 C290.2 731.7 293.8 732.6 295.9 732.5 C298 732.4 297.9 732 300 730.4 C302.1 728.8 305.3 724.6 308.5 723 C311.7 721.4 315.9 722.8 319.1 720.9 C322.3 719 324.9 715.3 327.5 711.4 C330.1 707.5 332.1 701.2 334.9 697.6 C337.7 694 341.9 690.3 344.5 689.8 C347.1 689.3 348.3 692.7 350.8 694.5 C353.3 696.3 356.8 701.1 359.3 700.4 C361.8 699.7 363.5 694.7 365.6 690.2 C367.7 685.7 369.9 678.6 372 673.3 C374.1 668 376.9 662.1 378.3 658.5 C379.7 654.9 378.8 654.3 380.4 651.8 C382 649.3 385.6 644 387.9 643.3 C390.2 642.6 392.3 645.8 394.2 647.6 C396.1 649.4 397.9 652.1 399.5 653.9 C401.1 655.7 401.9 654.2 403.7 658.5 C405.5 662.8 408 672.6 410.1 679.6 C412.2 686.6 413.9 694.1 416.4 700.8 C418.9 707.5 422.8 715.7 424.9 719.9 C427 724.1 427.3 724.1 429.1 726 C430.9 727.9 432.3 731.3 435.5 731.5 C438.7 731.7 444.7 729.1 448.2 727.3 C451.7 725.5 453.9 723.7 456.7 720.9 C459.5 718.1 461.5 713.1 465 710.5 C468.5 707.9 474.2 708.2 477.7 705.2 C481.2 702.2 483 697.6 486.2 692.5 C489.4 687.4 493.8 679.2 496.8 674.7 C499.8 670.2 501.2 666.8 504.2 665.2 C507.2 663.6 511.3 666.6 514.8 665.2 C518.3 663.8 522.7 658 525.3 656.7 C527.9 655.5 528.6 655.4 530.6 657.7 C532.6 660 535.2 665.8 537 670.4 C538.8 675 539.8 680.5 541.2 685.3 C542.6 690 543.8 694 545.4 698.9 C547 703.8 548.9 714.1 550.7 714.8 C552.5 715.5 554 706.8 556 703.1 C558 699.4 559.9 695 562.4 692.5 C564.9 690 568.1 687.5 570.9 687.9 C573.7 688.2 576.1 691.9 579.3 694.6 C582.5 697.3 586.9 703.3 589.9 704.2 C592.9 705.1 594.7 701.1 597.3 699.9 C599.9 698.7 603.3 697.2 605.5 696.8 C607.7 696.4 608.5 696.4 610.7 697.5 C612.9 698.6 615.5 703 618.5 703.3 C621.5 703.6 626.2 699.5 629 699.4 C631.8 699.3 632.9 701.4 635.5 702.7 C638.1 704 642.5 706 644.7 707.3 C646.9 708.6 647 709.3 648.6 710.5 C650.2 711.7 652.9 714.1 654.6 714.6 C656.3 715.1 656.9 714.8 658.7 713.6 C660.5 712.4 663 709.2 665.4 707.5 C667.8 705.8 670.5 705.5 673.4 703.3 C676.3 701.1 679.1 696.5 682.6 694.2 C686.1 691.9 692.4 690.4 694.4 689.6" fill="none" stroke="#0a0aff" stroke-width="1.35" stroke-linejoin="round"/>
<path d="M139.2 756 C140.6 756.4 144.9 758 147.7 758.5 C150.5 759 153.4 759.6 156.2 759.2 C159 758.9 161.1 757.6 164.6 756.4 C168.1 755.2 173.8 752.6 177.3 752.2 C180.8 751.8 183.2 753.3 185.8 753.9 C188.5 754.5 190.7 756.2 193.2 756 C195.7 755.8 197.2 754.1 200.6 752.8 C203.9 751.5 209.8 748.8 213.3 748 C216.8 747.2 219.3 747.4 221.8 748 C224.3 748.6 226.4 750.8 228.2 751.8 C230 752.8 230.3 753.9 232.4 753.9 C234.5 753.9 237.7 752.1 240.9 751.8 C244.1 751.5 248.8 751.9 251.4 752.2 C254 752.5 254.2 753.9 256.7 753.5 C259.2 753.1 262.6 750.8 266.3 750.1 C270 749.5 274.8 750 279 749.6 C283.2 749.2 288.2 748.1 291.7 747.5 C295.2 746.9 297.2 746.7 300 746.2 C302.8 745.7 305.1 743.9 308.5 744.5 C311.9 745.1 317.3 749.7 320.1 750 C322.9 750.3 324.2 748.6 325.4 746.2 C326.6 743.8 326.1 738.7 327.5 735.7 C328.9 732.7 332.1 730.8 333.9 728.2 C335.7 725.6 335.8 722.9 338.1 719.9 C340.4 716.9 345 711.4 347.6 710.3 C350.2 709.2 351.9 711.9 354 713.5 C356.1 715.1 358.2 720.9 360.3 719.9 C362.4 718.9 364.4 712.5 366.7 707.2 C369 701.9 371.8 693.4 374.1 688.1 C376.4 682.8 378.1 678.8 380.4 675.4 C382.7 672 385.4 667.3 387.9 668 C390.4 668.7 392.7 675.6 395.3 679.6 C397.9 683.6 401.2 687.7 403.7 692.3 C406.2 696.9 408 701.6 410.1 707.2 C412.2 712.9 414.3 720.5 416.4 726.2 C418.5 731.9 420.3 737.5 422.8 741.5 C425.3 745.5 428.7 748 431.3 750.4 C433.9 752.8 435.2 755.2 438.7 755.7 C442.2 756.2 448.7 754.7 452.4 753.6 C456.1 752.5 458.1 750.5 460.9 749.3 C463.7 748.1 466.6 747.4 469.4 746.5 C472.2 745.6 475.2 746.4 477.7 744.1 C480.1 741.8 481.6 736.9 484.1 732.7 C486.6 728.5 489.7 723.4 492.5 719 C495.3 714.6 498.5 708.9 501 706.3 C503.5 703.7 505 704 507.3 703.5 C509.6 703 512 704.4 514.8 703.1 C517.6 701.8 522 696.8 524.3 695.7 C526.6 694.7 526.4 694.1 528.5 696.8 C530.6 699.4 534.5 706.3 537 711.6 C539.5 716.9 541 722.9 543.3 728.5 C545.6 734.1 548.2 744.9 550.7 745.3 C553.2 745.7 555.9 735.2 558.2 731 C560.5 726.8 562.2 722.7 564.5 720 C566.8 717.3 569.4 714.1 571.9 714.8 C574.4 715.5 576.3 719.4 579.3 724.3 C582.3 729.2 586.9 741.6 589.9 744.4 C592.9 747.2 594.8 742 597.3 741.2 C599.8 740.4 602.6 739.8 604.7 739.5 C606.8 739.2 607.8 738.6 609.9 739.6 C612 740.6 614.7 745.2 617.4 745.2 C620.1 745.2 623.8 741.2 626.2 739.3 C628.6 737.4 629.1 735.2 631.6 733.6 C634.1 732 638.6 729.9 641.1 729.6 C643.6 729.3 644.9 730.6 646.5 731.9 C648.1 733.2 649.2 734.7 650.6 737.3 C652 739.9 653.4 745 654.6 747.4 C655.8 749.8 656.9 751.2 658 751.8 C659.1 752.4 659.7 751.6 661.4 750.8 C663.1 750 665.7 747.9 668.2 746.8 C670.7 745.7 674 745.2 676.3 744.1 C678.5 743 679.5 741.3 681.7 740 C684 738.7 687.5 737 689.8 736.3 C692.1 735.6 694.4 736 695.3 735.9" fill="none" stroke="#0a0aff" stroke-width="1.35" stroke-linejoin="round"/>
<path d="M139.2 787.7 C142 787.7 151.2 787.8 156.2 787.7 C161.1 787.6 165 787.6 168.9 787.3 C172.8 787 176.3 786.1 179.5 786.1 C182.7 786.1 184.7 786.9 187.9 787.3 C191.1 787.6 195.3 788.1 198.5 788.2 C201.7 788.3 203.8 787.9 207 787.7 C210.2 787.5 213.9 786.6 217.6 786.9 C221.3 787.2 226 789.4 229.2 789.4 C232.4 789.4 233.9 787.6 236.6 786.7 C239.2 785.8 242.4 784.3 245.1 784.1 C247.8 783.9 249.8 784.9 252.5 785.6 C255.2 786.3 258 788.4 261 788.2 C264 788 266.8 786.3 270.5 784.6 C274.2 782.9 279.3 779.4 283.2 778.2 C287.1 777 291 777.4 293.8 777.2 C296.6 777 297.2 778.2 300 776.9 C302.8 775.6 307.4 770.9 310.6 769.5 C313.8 768.1 316.6 769.4 319.1 768.4 C321.6 767.4 322.2 765.4 325.4 763.5 C328.6 761.6 334.6 758.9 338.1 756.8 C341.6 754.7 343.1 751.6 346.6 750.8 C350.1 750 355.8 753 359.3 752.1 C362.8 751.2 364.5 747.5 367.7 745.1 C370.9 742.7 375.1 739.8 378.3 737.7 C381.5 735.6 384.7 733.3 386.8 732.4 C388.9 731.5 389.2 731.5 391 732.4 C392.8 733.3 395.3 735.8 397.4 737.7 C399.5 739.7 401.6 740.6 403.7 744.1 C405.8 747.6 407.8 753.6 410.1 758.9 C412.4 764.2 415.4 772.2 417.5 775.8 C419.6 779.4 419.8 779.1 422.8 780.5 C425.8 781.9 430.9 784.6 435.5 784.3 C440.1 783.9 446.1 778.9 450.3 778.4 C454.5 777.9 458.4 780.5 460.9 781.1 C463.3 781.7 463.2 781.9 465 782.2 C466.8 782.6 469.5 782.4 471.4 783.2 C473.3 784 474.5 787 476.6 786.8 C478.7 786.6 481.5 784.6 484.1 782.2 C486.8 779.8 490 776.1 492.5 772.6 C495 769.1 496.8 764.2 498.9 761 C501 757.8 503.3 754.4 505.2 753.3 C507.1 752.2 508.7 754.4 510.5 754.2 C512.3 754 513.8 753.9 515.8 752.2 C517.8 750.5 520.1 746.6 522.2 744.1 C524.3 741.6 526.4 738 528.5 737.3 C530.6 736.6 532.8 737.6 534.9 739.8 C537 742 539.3 746.5 541.2 750.4 C543.1 754.3 544.9 759.3 546.5 763.1 C548.1 766.9 549.1 772.6 550.7 773.3 C552.3 774 554 769.7 556 767.3 C558 764.9 560.1 761.4 562.4 758.9 C564.7 756.4 567.3 752.1 569.8 752.1 C572.3 752.1 574.9 755.5 577.2 758.9 C579.5 762.3 581.5 768.8 583.6 772.6 C585.7 776.4 587.4 780.8 589.9 781.7 C592.4 782.6 595.5 779.3 598.4 777.9 C601.3 776.5 605 773.9 607.2 773.2 C609.5 772.5 610.1 773.2 611.9 773.9 C613.7 774.6 616.1 777.2 618 777.3 C619.9 777.4 621.5 775.3 623.5 774.6 C625.5 773.9 628.2 773.6 630.2 773.2 C632.2 772.9 633.8 772.9 635.6 772.5 C637.4 772.1 639.3 771.1 641.1 770.8 C642.9 770.5 644.9 770.3 646.5 770.8 C648.1 771.3 649.4 772.7 650.6 773.9 C651.8 775.1 652.8 777.2 653.9 777.9 C655 778.6 655.8 779.1 657.3 777.9 C658.8 776.7 660.8 772.7 662.7 770.5 C664.6 768.3 666.8 766.1 668.8 764.8 C670.8 763.4 672.5 763.6 674.9 762.4 C677.3 761.2 680.8 758.5 683.1 757.6 C685.4 756.7 686.5 756.8 688.5 756.9 C690.5 757 694.2 758.1 695.3 758.3" fill="none" stroke="#0a0aff" stroke-width="1.35" stroke-linejoin="round"/>
<path d="M139 519.5 C140.4 519.6 144.5 520.6 147.7 519.9 C150.9 519.2 154.7 516.5 158.2 515.1 C161.7 513.7 165.1 511.8 168.6 511.7 C172.1 511.6 175.6 513.6 179.1 514.3 C182.6 515 184.7 515.7 189.6 516 C194.5 516.3 203.8 515.6 208.7 516 C213.6 516.4 215.7 518.5 219.2 518.6 C222.7 518.8 226.2 517.3 229.7 516.9 C233.2 516.5 234.9 516.1 240.1 516 C245.3 515.9 256 516.8 261 516 C266 515.2 267.3 512.6 270 511.4 C272.7 510.1 273.5 509.2 277 508.5 C280.5 507.8 286.7 507.6 290.9 507.1 C295.1 506.6 298.8 506.5 302.3 505.7 C305.8 504.9 308.5 502.3 311.8 502.2 C315.1 502.1 319.1 504.6 322.3 505 C325.5 505.4 327.8 506.2 331 504.5 C334.2 502.8 338 496.1 341.5 494.5 C345 492.9 349 494.5 351.9 494.9 C354.8 495.2 356.9 496.6 358.9 496.6 C360.9 496.6 361.8 496.5 364.1 494.9 C366.4 493.3 370 489.9 372.9 487 C375.8 484.1 378.4 479 381.6 477.4 C384.8 475.8 389.8 476.9 392 477.1 C394.2 477.3 393 477.3 395 478.4 C397 479.5 400.9 482 404 483.9 C407.1 485.8 410.6 487.9 413.9 489.9 C417.2 491.9 421.7 494.6 423.9 496.1 C426.1 497.6 425.4 499.5 427 499 C428.6 498.5 431 495.2 433.8 492.9 C436.6 490.6 440.7 486.3 443.8 485.4 C446.9 484.5 449.3 484.8 452.3 487.4 C455.3 490 458.8 497 461.7 500.9 C464.6 504.8 467.1 509.8 470 510.8 C472.9 511.8 476.7 509.3 479.3 507.1 C481.9 504.9 483.4 500.9 485.4 497.5 C487.4 494.1 489.3 490.5 491.5 487 C493.7 483.5 495.6 478.3 498.5 476.6 C501.4 474.9 505.7 477.3 509 476.6 C512.3 475.9 515.2 474.1 518.5 472.2 C521.8 470.2 526 464.4 529 464.9 C532 465.4 534.3 472.2 536.4 475.1 C538.5 478 540.2 479.5 541.6 482.5 C543 485.5 543.7 490 544.8 493.1 C545.9 496.2 546.6 499.5 548 501 C549.4 502.5 551.1 502.4 553 502 C554.9 501.6 557.3 500.8 559.6 498.4 C561.9 496 564.5 489.8 567 487.8 C569.5 485.8 571.5 484.9 574.5 486.3 C577.5 487.7 581.6 494 585 496.3 C588.4 498.6 591.4 499.4 594.6 499.9 C597.8 500.3 600.8 498.9 604.1 499 C607.5 499.1 611.2 499.8 614.7 500.5 C618.2 501.2 621.8 502.4 625.3 503.3 C628.8 504.2 632.4 505 635.9 505.8 C639.4 506.6 642.9 508.8 646.4 508.4 C649.9 508 654 505.9 657 503.3 C660 500.8 661.6 495.9 664.4 493.1 C667.2 490.3 670.8 487.4 674 486.3 C677.2 485.2 680 485.7 683.5 486.3 C687 486.9 693.2 489.3 695.1 489.9" fill="none" stroke="#ff0000" stroke-width="1.35" stroke-dasharray="3.5 6.5"/>
<path d="M139 545.7 C140.4 545.6 144.5 544.5 147.7 544.8 C150.9 545.1 154.7 547.6 158.2 547.7 C161.7 547.9 164.8 545.9 168.6 545.7 C172.4 545.5 177 546.6 180.8 546.5 C184.6 546.4 188.1 544.8 191.3 544.8 C194.5 544.8 196.8 546.4 200 546.5 C203.2 546.6 207 546 210.5 545.7 C214 545.4 217.8 544.7 221 544.8 C224.2 544.9 226.5 546.4 229.7 546.5 C232.9 546.6 234.9 545.8 240.1 545.7 C245.3 545.6 256 546.3 261 545.7 C266 545.1 266.8 543.4 270 541.9 C273.2 540.4 276.9 538.6 280.5 536.7 C284.1 534.8 288.2 533.2 291.8 530.6 C295.4 528 299 523 302.3 521.4 C305.6 519.8 308.5 519.7 311.8 521 C315.1 522.3 319.2 529.4 322.3 529.4 C325.4 529.4 327.2 524 330.1 521 C333 518 336.6 513.5 339.7 511.4 C342.8 509.3 346.5 508.1 348.5 508.5 C350.5 508.9 350.8 511.8 351.9 514 C353 516.2 353.9 519.1 355.4 521.9 C356.9 524.7 358.4 529.1 360.7 530.6 C363 532.1 366.2 531.2 369.4 531.1 C372.6 531 376.3 529.2 379.8 529.7 C383.3 530.2 387.1 532.7 390.3 534.1 C393.5 535.5 395.6 538.8 399 538 C402.4 537.2 407.2 532.3 410.4 529.2 C413.6 526.1 416.3 522.8 418.4 519.3 C420.5 515.8 421.5 511.7 422.9 508.3 C424.3 504.9 425.5 502.2 427 499 C428.5 495.8 430.2 492.4 431.9 489 C433.6 485.6 435.1 480.6 437.3 478.4 C439.5 476.2 442.7 474.2 445.3 476 C447.9 477.8 451.1 485.4 452.8 488.9 C454.5 492.4 454.2 493.8 455.3 496.9 C456.4 500 457.8 503.8 459.2 507.3 C460.6 510.8 462.2 514.3 463.7 517.8 C465.2 521.3 466 525.2 468.2 528.2 C470.4 531.2 473.7 535.5 476.7 535.8 C479.7 536 483.4 532.3 486.3 529.7 C489.2 527.1 491.5 523.3 494.1 520.1 C496.7 516.9 498.9 511.8 502 510.6 C505.1 509.5 509.6 513.8 512.5 513.2 C515.4 512.6 517.6 509.9 519.4 507.1 C521.1 504.3 521.5 500.1 523 496.6 C524.5 493.1 526.2 489.4 528.2 486.2 C530.2 483 533.5 478.9 535.1 477.4 C536.7 475.9 536.9 475.9 538 477 C539.1 478.1 540.5 480.8 541.6 484 C542.7 487.2 543.5 490.9 544.8 496 C546 501.1 547.7 509.5 549.1 514.3 C550.5 519.1 551.5 524 553.3 524.9 C555 525.8 557.1 522.2 559.6 519.6 C562.1 517 565.3 511.1 568.1 509 C570.9 506.9 573.8 505.5 576.6 506.9 C579.4 508.3 582.4 514.7 585 517.5 C587.6 520.3 589.5 523.6 592.5 523.8 C595.5 524 599.5 519 603 518.5 C606.5 518 610.2 519.5 613.6 520.6 C617 521.7 619.9 525.5 623.2 525.3 C626.6 525 630.2 520.6 633.7 519.1 C637.2 517.6 641.1 515 644.3 516 C647.5 517 650 523.2 652.8 524.9 C655.6 526.5 658.1 527 661.3 525.9 C664.5 524.8 668.4 520.1 671.8 518.5 C675.1 516.9 678 515.3 681.4 516 C684.8 516.7 689.7 521.5 692 522.7 C694.3 523.9 694.5 523 695 523" fill="none" stroke="#ff0000" stroke-width="1.35" stroke-dasharray="3.5 6.5"/>
<path d="M139.2 817.4 C140.6 817.2 144.5 817 147.7 816.3 C150.9 815.6 154.8 814 158.3 813.2 C161.8 812.4 165.4 811.9 168.9 811.5 C172.4 811.1 176 810.8 179.5 811 C183 811.2 186.5 812.4 190 812.7 C193.5 813 197.1 813.1 200.6 812.7 C204.1 812.4 208 810.6 211.2 810.6 C214.4 810.6 216.9 812.3 219.7 812.7 C222.5 813.1 225.7 813.8 228.2 813.2 C230.7 812.6 232.4 810.4 234.5 808.9 C236.6 807.4 238.1 804.8 240.9 804.3 C243.7 803.8 247.9 804.3 251.4 805.7 C254.9 807.1 258.8 812.7 262 812.7 C265.2 812.7 267.3 808 270.5 805.7 C273.7 803.4 277.6 800.2 281.1 798.8 C284.6 797.4 288.6 799 291.7 797.3 C294.8 795.6 297.2 791.4 300 788.5 C302.8 785.6 305.3 782.2 308.5 780 C311.7 777.8 315.6 776.3 319.1 775.4 C322.6 774.5 326.1 775.9 329.6 774.8 C333.1 773.7 337 770.3 340.2 769 C343.4 767.7 345.7 765.6 348.7 766.9 C351.7 768.2 355 776.5 358.2 776.9 C361.4 777.3 365 772.5 367.7 769.5 C370.4 766.5 371.6 762.3 374.1 758.9 C376.6 755.5 379.6 750.4 382.6 749.3 C385.6 748.2 389.5 750.2 392.1 752.5 C394.7 754.8 396.3 759.8 398.4 763.1 C400.5 766.5 402.9 769.4 404.8 772.6 C406.8 775.8 408.2 778.9 410.1 782.2 C412 785.6 413.9 789 416.4 792.7 C418.9 796.4 421.9 802.4 424.9 804.4 C427.9 806.4 431.2 805.2 434.4 805 C437.6 804.8 440.6 802.3 444 802.9 C447.4 803.5 451 807.3 454.5 808.6 C458 809.9 461.4 810.8 465.1 810.7 C468.8 810.6 473.4 809.8 476.6 808 C479.8 806.2 481.6 803.5 484.1 800.2 C486.6 797 489.6 792 491.5 788.5 C493.4 785 494.1 782.2 495.7 779 C497.3 775.8 498.7 771.6 501 769.5 C503.3 767.4 506.5 767.2 509.5 766.3 C512.5 765.4 516.7 766.2 519 764.2 C521.3 762.2 521.4 758 523.2 754.6 C525 751.2 527.5 744.7 529.6 743.6 C531.7 742.5 534.1 745.4 535.9 748.3 C537.7 751.2 539 755.9 540.2 761 C541.4 766.1 542.2 774.1 543.3 779 C544.3 783.9 545.3 787.2 546.5 790.6 C547.7 794 548.8 799.1 550.7 799.1 C552.7 799.1 555.7 793.4 558.2 790.6 C560.7 787.9 563 782.8 565.6 782.6 C568.2 782.4 571.7 786.7 574 789.6 C576.3 792.5 577.3 796.8 579.3 800.2 C581.2 803.6 583.2 808.5 585.7 810.1 C588.2 811.7 590.9 811.2 594.1 809.7 C597.4 808.2 601.6 801.8 605.2 801 C608.9 800.2 612.6 804.5 616 805.1 C619.4 805.7 622.8 806.1 625.5 804.4 C628.2 802.7 629.5 797 632.3 794.9 C635.1 792.8 638.9 792.2 642.4 791.9 C645.9 791.6 650 794.4 653.3 792.9 C656.6 791.4 659.2 786 662.1 782.7 C665 779.4 667.8 776 670.9 773.2 C674 770.4 677.5 767.6 681 765.7 C684.5 763.8 689.5 762.5 691.9 761.7 C694.3 760.9 694.7 761.1 695.3 761" fill="none" stroke="#ff0000" stroke-width="1.35" stroke-dasharray="3.5 6.5"/>
<g fill="none" stroke="#111" stroke-width="1.2">
<rect x="139.5" y="34.5" width="556.0" height="785.0"/>
<path d="M139.5 296.5 H695.5 M139.5 557.5 H695.5"/>
<path d="M139.5 819.5 V826.0 M139.5 296.5 V303.5 M139.5 553.0 V563.5 M160.5 819.5 V824.0 M160.5 293.5 V296.5 M160.5 555.5 V557.5 M180.5 819.5 V824.0 M180.5 293.5 V296.5 M180.5 555.5 V557.5 M201.5 819.5 V824.0 M201.5 293.5 V296.5 M201.5 555.5 V557.5 M221.5 819.5 V824.0 M221.5 293.5 V296.5 M221.5 555.5 V557.5 M242.5 819.5 V826.0 M242.5 296.5 V303.5 M242.5 553.0 V563.5 M263.5 819.5 V824.0 M263.5 293.5 V296.5 M263.5 555.5 V557.5 M283.5 819.5 V824.0 M283.5 293.5 V296.5 M283.5 555.5 V557.5 M304.5 819.5 V824.0 M304.5 293.5 V296.5 M304.5 555.5 V557.5 M324.5 819.5 V824.0 M324.5 293.5 V296.5 M324.5 555.5 V557.5 M345.5 819.5 V826.0 M345.5 296.5 V303.5 M345.5 553.0 V563.5 M366.5 819.5 V824.0 M366.5 293.5 V296.5 M366.5 555.5 V557.5 M386.5 819.5 V824.0 M386.5 293.5 V296.5 M386.5 555.5 V557.5 M407.5 819.5 V824.0 M407.5 293.5 V296.5 M407.5 555.5 V557.5 M427.5 819.5 V824.0 M427.5 293.5 V296.5 M427.5 555.5 V557.5 M448.5 819.5 V826.0 M448.5 296.5 V303.5 M448.5 553.0 V563.5 M469.5 819.5 V824.0 M469.5 293.5 V296.5 M469.5 555.5 V557.5 M489.5 819.5 V824.0 M489.5 293.5 V296.5 M489.5 555.5 V557.5 M510.5 819.5 V824.0 M510.5 293.5 V296.5 M510.5 555.5 V557.5 M530.5 819.5 V824.0 M530.5 293.5 V296.5 M530.5 555.5 V557.5 M551.5 819.5 V826.0 M551.5 296.5 V303.5 M551.5 553.0 V563.5 M572.5 819.5 V824.0 M572.5 293.5 V296.5 M572.5 555.5 V557.5 M592.5 819.5 V824.0 M592.5 293.5 V296.5 M592.5 555.5 V557.5 M613.5 819.5 V824.0 M613.5 293.5 V296.5 M613.5 555.5 V557.5 M633.5 819.5 V824.0 M633.5 293.5 V296.5 M633.5 555.5 V557.5 M654.5 819.5 V826.0 M654.5 296.5 V303.5 M654.5 553.0 V563.5 M675.5 819.5 V824.0 M675.5 293.5 V296.5 M675.5 555.5 V557.5 M695.5 819.5 V824.0 M695.5 293.5 V296.5 M695.5 555.5 V557.5 "/>
</g>
<g stroke="#000" stroke-width="1.3">
<path d="M178.5 83 V99"/>
<path d="M183.8 323.5 V365.5"/>
<path d="M185.5 582 V622.5"/>
</g>
<text x="139.7" y="847.3" font-size="24" fill="#1a1a1a" text-anchor="middle">1750</text>
<text x="242" y="847.3" font-size="24" fill="#1a1a1a" text-anchor="middle">1700</text>
<text x="345" y="847.3" font-size="24" fill="#1a1a1a" text-anchor="middle">1650</text>
<text x="448" y="847.3" font-size="24" fill="#1a1a1a" text-anchor="middle">1600</text>
<text x="551" y="847.3" font-size="24" fill="#1a1a1a" text-anchor="middle">1550</text>
<text x="653.5" y="847.3" font-size="24" fill="#1a1a1a" text-anchor="middle">1500</text>
<text x="319" y="891" font-size="24" letter-spacing="0.3" fill="#1a1a1a">Waveumber / cm<tspan font-size="12.5" dy="-11" dx="-0.5" letter-spacing="0">-1</tspan></text>
<text x="94" y="181.5" font-size="23" fill="#1a1a1a" text-anchor="middle" transform="rotate(-90 94 181.5)">&#916;S</text>
<text x="94" y="433" font-size="23" fill="#1a1a1a" text-anchor="middle" transform="rotate(-90 94 433)">&#916;S</text>
<text x="91.5" y="663" font-size="23" fill="#1a1a1a" text-anchor="middle" transform="rotate(-90 91.5 663)">&#916;S</text>
<text x="149.7" y="92.8" font-size="16.5" fill="#1a1a1a" text-anchor="start">&#916;S</text>
<text x="186" y="92.8" font-size="16.5" fill="#1a1a1a" text-anchor="start">0.001</text>
<text x="155" y="350.5" font-size="16.5" fill="#1a1a1a" text-anchor="start">&#916;S</text>
<text x="187" y="350.5" font-size="16.5" fill="#1a1a1a" text-anchor="start">0.001</text>
<text x="153.5" y="607.4" font-size="16.5" fill="#1a1a1a" text-anchor="start">&#916;S</text>
<text x="190" y="607.4" font-size="16.5" fill="#1a1a1a" text-anchor="start">0.001</text>
<text x="357.5" y="47" font-size="12.5" fill="#1a1a1a" text-anchor="start" letter-spacing="1.45">Ring def, T</text>
<text x="222.3" y="146.3" font-size="12.5" fill="#1a1a1a" letter-spacing="1.9">&#957;(C=O)<tspan font-size="8" dy="5" dx="0.5" letter-spacing="0.3">T2</tspan></text>
<text x="289.7" y="174.7" font-size="12.5" fill="#1a1a1a" letter-spacing="1.9">&#957;(C=O)<tspan font-size="8" dy="6" dx="0.5" letter-spacing="0.3">T4</tspan></text>
<text x="436.5" y="152.2" font-size="12.5" fill="#1a1a1a" letter-spacing="1.45">Ring def, A<tspan font-size="8" dy="5" letter-spacing="0.3">r1</tspan></text>
<text x="480" y="173.3" font-size="12.5" fill="#1a1a1a" text-anchor="start" letter-spacing="1.6">Ring def, Ar2</text>
<text transform="translate(141.2 389.5) scale(1 1.1)" font-size="16" letter-spacing="0.5" fill="#1a1a1a">-0.3V</text>
<text transform="translate(144.7 423) scale(1 1.1)" font-size="16" letter-spacing="0.5" fill="#1a1a1a">-0.2V</text>
<text transform="translate(143.7 456) scale(1 1.1)" font-size="16" letter-spacing="0.5" fill="#1a1a1a">-0.1V</text>
<text transform="translate(147.4 482.5) scale(1 1.1)" font-size="16" letter-spacing="0.5" fill="#1a1a1a">0.0V</text>
<text transform="translate(145.3 503.5) scale(1 1.1)" font-size="16" letter-spacing="0.5" fill="#1a1a1a">0.1V</text>
<text transform="translate(145.3 541.3) scale(1 1.1)" font-size="16" letter-spacing="0.5" fill="#1a1a1a">0.3V</text>
<text transform="translate(144.9 668.6) scale(1 1.1)" font-size="16" letter-spacing="0.5" fill="#1a1a1a">-0.4V</text>
<text transform="translate(142.7 691.9) scale(1 1.1)" font-size="16" letter-spacing="0.5" fill="#1a1a1a">-0.3V</text>
<text transform="translate(144.9 727.9) scale(1 1.1)" font-size="16" letter-spacing="0.5" fill="#1a1a1a">-0.2V</text>
<text transform="translate(143.6 754.3) scale(1 1.1)" font-size="16" letter-spacing="0.5" fill="#1a1a1a">-0.1V</text>
<text transform="translate(145.3 779.3) scale(1 1.1)" font-size="16" letter-spacing="0.5" fill="#1a1a1a">0.0V</text>
<text transform="translate(142.1 808.5) scale(1 1.1)" font-size="16" letter-spacing="0.5" fill="#1a1a1a">0.1V</text>
</svg>
</body></html>
